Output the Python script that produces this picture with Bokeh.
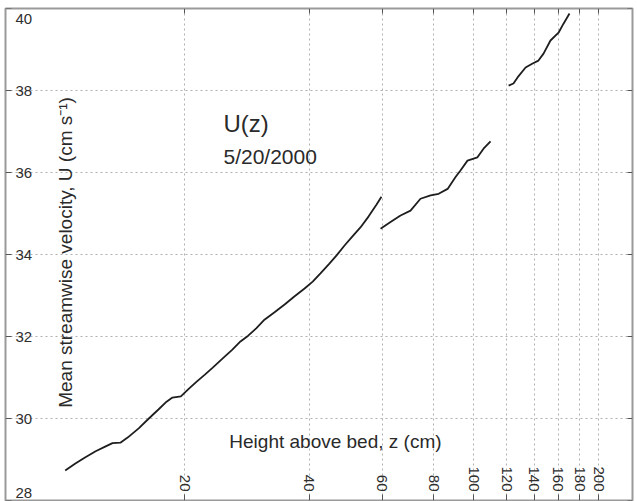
import numpy as np
from bokeh.plotting import figure
from bokeh.models import (Range1d, LogAxis, LinearAxis, FixedTicker, Grid, Label,
                          BasicTickFormatter)
from bokeh.core.properties import value
from bokeh.embed import file_html
from bokeh.resources import INLINE

# ---- data (height above bed z in cm, mean velocity U in cm/s) ----
seg1_z = [10.3, 10.9, 11.5, 12.2, 12.9, 13.4, 14.0, 14.6, 15.5, 16.4,
          17.3, 18.1, 18.7, 19.6, 20.5, 21.4, 22.4, 23.4, 24.7, 26.1,
          27.3, 28.5, 29.8, 31.2, 33.0, 34.9, 36.9, 39.0, 40.8, 42.6,
          44.6, 46.6, 48.7, 50.9, 53.2, 55.7, 58.2, 59.8]
seg1_u = [28.73, 28.90, 29.05, 29.20, 29.32, 29.40, 29.41, 29.54, 29.76, 30.00,
          30.22, 30.41, 30.51, 30.54, 30.73, 30.90, 31.07, 31.24, 31.46, 31.68,
          31.88, 32.02, 32.20, 32.41, 32.59, 32.78, 32.98, 33.17, 33.34, 33.54,
          33.76, 33.98, 34.22, 34.44, 34.66, 34.93, 35.22, 35.41]

seg2_z = [59.5, 62.9, 66.5, 70.3, 74.3, 78.6, 82.2, 86.4, 90.3, 92.8, 96.5, 102.0, 105.5, 109.7]
seg2_u = [34.63, 34.79, 34.95, 35.07, 35.36, 35.44, 35.48, 35.60, 35.89, 36.05, 36.29, 36.37, 36.58, 36.76]

seg3_z = [121.3, 124.6, 127.5, 133.3, 138.6, 143.2, 147.3, 153.1, 160.1, 164.6, 170.2]
seg3_u = [38.12, 38.17, 38.32, 38.56, 38.66, 38.73, 38.90, 39.22, 39.41, 39.63, 39.88]

x_ticks = [20, 40, 60, 80, 100, 120, 140, 160, 180, 200]
y_ticks = [28, 30, 32, 34, 36, 38, 40]

x_lo, x_hi = 7.39, 241.6
y_lo, y_hi = 28, 40

FONT = "Liberation Sans"
TXT = "#2a2a2a"

p = figure(width=637, height=501, x_axis_type="log",
           x_range=Range1d(x_lo, x_hi), y_range=Range1d(y_lo, y_hi),
           x_axis_location=None, y_axis_location=None,
           output_backend="svg", toolbar_location=None,
           min_border_left=5, min_border_right=5, min_border_top=8, min_border_bottom=1,
           background_fill_color="white", border_fill_color="white")
p.outline_line_color = "#9a9a9a"
p.outline_line_width = 2
p.grid.visible = False

# grids
p.add_layout(Grid(dimension=0, ticker=FixedTicker(ticks=x_ticks),
                  grid_line_color="#b0b0b0", grid_line_dash="2 3", grid_line_width=1), "center")
p.add_layout(Grid(dimension=1, ticker=FixedTicker(ticks=y_ticks),
                  grid_line_color="#b0b0b0", grid_line_dash="2 3", grid_line_width=1), "center")

def style(ax, labels=True):
    ax.axis_line_color = None
    ax.minor_tick_in = 0
    ax.minor_tick_out = 0
    ax.major_tick_in = 0
    ax.major_tick_line_color = "#555555"
    ax.major_tick_line_width = 1
    ax.major_label_text_font = FONT
    ax.major_label_text_font_size = "15px"
    ax.major_label_text_color = "#2e2e2e"
    if not labels:
        ax.major_label_text_font_size = "0px"
        ax.major_label_text_alpha = 0

# x tick labels inside the box, along the bottom edge
ax_b = LogAxis(fixed_location=y_lo, ticker=FixedTicker(ticks=x_ticks),
               formatter=BasicTickFormatter(), major_label_orientation=-np.pi / 2)
style(ax_b)
ax_b.major_tick_out = 6
ax_b.major_label_standoff = 3
p.add_layout(ax_b, "above")

# ticks along the top edge
ax_t = LogAxis(fixed_location=y_hi, ticker=FixedTicker(ticks=x_ticks),
               formatter=BasicTickFormatter())
style(ax_t, labels=False)
ax_t.major_tick_out = 5
p.add_layout(ax_t, "below")

# y tick labels inside the box, along the left edge
ax_l = LinearAxis(fixed_location=x_lo, ticker=FixedTicker(ticks=y_ticks),
                  major_label_overrides={y_lo: "", y_hi: ""})
style(ax_l)
ax_l.major_tick_out = 6
ax_l.major_label_standoff = 4
p.add_layout(ax_l, "right")

# ticks along the right edge
ax_r = LinearAxis(fixed_location=x_hi, ticker=FixedTicker(ticks=y_ticks))
style(ax_r, labels=False)
ax_r.major_tick_out = 5
p.add_layout(ax_r, "left")

# end labels nudged inside the box
p.text(x=[x_lo, x_lo], y=[y_hi, y_lo], text=[str(y_hi), str(y_lo)],
       text_baseline=["top", "bottom"], x_offset=10, y_offset=[5, -3],
       text_font=value(FONT), text_font_size="15px", text_color="#2e2e2e")

# profile segments
for zz, uu in [(seg1_z, seg1_u), (seg2_z, seg2_u), (seg3_z, seg3_u)]:
    p.line(zz, uu, line_color="#1e1e1e", line_width=1.8)

# titles / annotations
p.add_layout(Label(x=24.84, y=37.2, text="U(z)", text_font=FONT, text_font_size="24px",
                   text_color=TXT, text_baseline="alphabetic"))
p.add_layout(Label(x=24.84, y=36.39, text="5/20/2000", text_font=FONT, text_font_size="21px",
                   text_color=TXT, text_baseline="alphabetic"))
p.add_layout(Label(x=46.3, y=29.44, text="Height above bed, z (cm)", text_font=FONT,
                   text_font_size="19px", text_color=TXT, text_align="center",
                   text_baseline="middle"))
p.add_layout(Label(x=10.32, y=34.05, text="Mean streamwise velocity, U (cm s\u207b\u00b9)",
                   text_font=FONT, text_font_size="19px", text_color=TXT, angle=np.pi / 2,
                   text_align="center", text_baseline="middle"))

open("out.html", "w").write(file_html(p, INLINE))
